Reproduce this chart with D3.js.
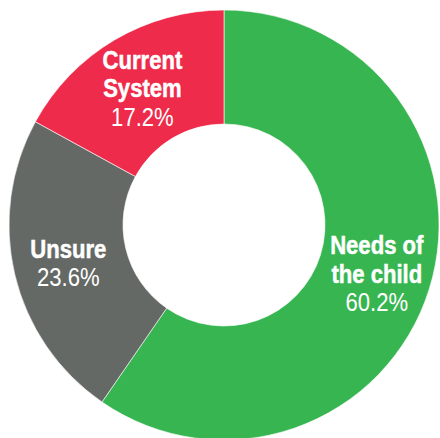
<!DOCTYPE html>
<html>
<head>
<meta charset="utf-8">
<script src="https://cdn.jsdelivr.net/npm/d3@7"></script>
<style>
  body { margin: 0; background: #fff; }
  svg { display: block; }
</style>
</head>
<body>
<div id="chart"></div>
<script>
// survey answers, clockwise from 12 o'clock
var categories = ["Needs of the child", "Unsure", "Current System"];
var shares = [60.2, 23.6, 17.2];
var labelLines = [["Needs of", "the child"], ["Unsure"], ["Current", "System"]];
var colors = ["#36b550", "#646966", "#ee2b4a"];

var width = 440, height = 438;
var cx = 224, cy = 225;

var svg = d3.select('#chart').append('svg')
  .attr('width', width)
  .attr('height', height);

var g = svg.append('g').attr('transform', 'translate(' + cx + ',' + cy + ')');

var data = categories.map(function (c, i) {
  return { name: c, value: shares[i], lines: labelLines[i], color: colors[i] };
});

var pie = d3.pie().sort(null).value(function (d) { return d.value; });
var arc = d3.arc().innerRadius(101).outerRadius(215);
var labelArc = d3.arc().innerRadius(160).outerRadius(160);

var arcs = pie(data);

g.selectAll('path.slice')
  .data(arcs)
  .enter().append('path')
  .attr('class', 'slice')
  .attr('d', arc)
  .attr('fill', function (d) { return d.data.color; })
  .attr('stroke', '#fff')
  .attr('stroke-width', 0.6);

var lh = 28.5;
var labels = g.selectAll('g.lbl')
  .data(arcs)
  .enter().append('g')
  .attr('class', 'lbl');

// narrow look: Arial-metric font squeezed horizontally
labels.each(function (d) {
  var c = labelArc.centroid(d);
  var lines = d.data.lines.concat([d.data.value.toFixed(1) + '%']);
  var n = lines.length;
  var sel = d3.select(this);
  lines.forEach(function (t, i) {
    var isPct = i == n - 1;
    var y = c[1] + (i - (n - 1) / 2) * lh + 10;
    sel.append('text')
      .attr('transform', 'translate(' + c[0] + ',' + y + ') scale(0.85,1)')
      .attr('text-anchor', 'middle')
      .attr('fill', '#fff')
      .attr('stroke', isPct ? 'none' : '#fff')
      .attr('stroke-width', 0.5)
      .style('font-family', '"Liberation Sans", Arial, sans-serif')
      .style('font-weight', isPct ? 'normal' : 'bold')
      .style('font-size', '26px')
      .text(t);
  });
});
</script>
</body>
</html>
